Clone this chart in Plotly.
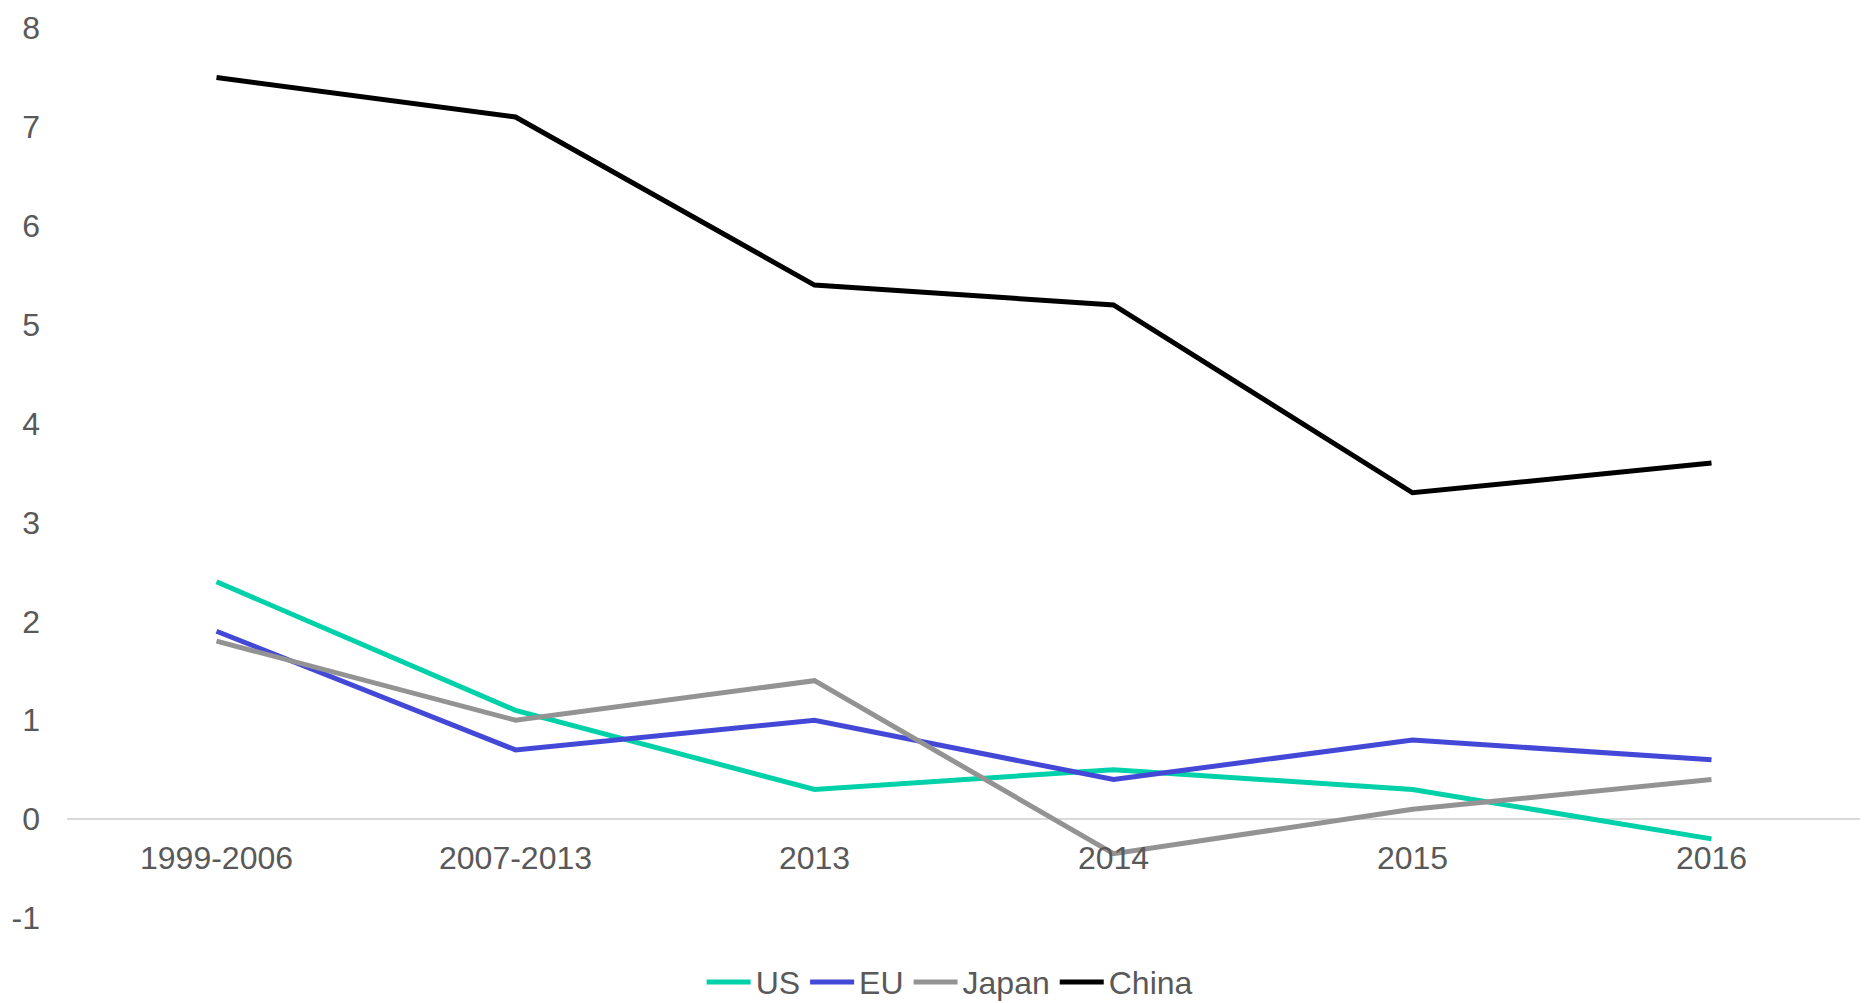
import plotly.graph_objects as go

categories = ["1999-2006", "2007-2013", "2013", "2014", "2015", "2016"]
us = [2.4, 1.1, 0.3, 0.5, 0.3, -0.2]
eu = [1.9, 0.7, 1.0, 0.4, 0.8, 0.6]
japan = [1.8, 1.0, 1.4, -0.35, 0.1, 0.4]
china = [7.5, 7.1, 5.4, 5.2, 3.3, 3.6]
y_ticks = [-1, 0, 1, 2, 3, 4, 5, 6, 7, 8]
y_ticktext = ["-1", "0", "1", "2", "3", "4", "5", "6", "7", "8"]

series = [("US", us, "#00D1A9"), ("EU", eu, "#4349D6"), ("Japan", japan, "#939393"), ("China", china, "#000000")]

fig = go.Figure()
for name, vals, color in series:
    fig.add_trace(go.Scatter(x=list(range(len(categories))), y=vals, name=name, mode="lines",
                             line=dict(color=color, width=5)))

font = dict(family="Liberation Sans, Arial, sans-serif", size=32, color="#595959")
# the page body has an 8px default margin, so the figure is sized/offset to compensate
fig.update_layout(
    width=1860, height=995,
    margin=dict(l=59, r=7, t=20, b=85, autoexpand=False),
    paper_bgcolor="white", plot_bgcolor="white",
    font=font,
    showlegend=True,
    legend=dict(orientation="h", x=0.492, xanchor="center", y=-0.072, yanchor="middle",
                font=font, itemwidth=44),
    xaxis=dict(tickmode="array", tickvals=list(range(len(categories))), ticktext=categories,
               range=[-0.5, 5.5], showgrid=False, zeroline=False, showline=False,
               ticks="", tickfont=font, anchor="free", position=1 / 9, automargin=False,
               ticklabelstandoff=17, ticklabeloverflow="allow"),
    yaxis=dict(range=[-1, 8], tickmode="array", tickvals=y_ticks, ticktext=y_ticktext,
               showgrid=False, zeroline=True,
               zerolinecolor="#D9D9D9", zerolinewidth=2, showline=False, ticks="",
               tickfont=font, ticklabelstandoff=26, automargin=False,
               ticklabeloverflow="allow"),
)
fig.write_html("out.html")
